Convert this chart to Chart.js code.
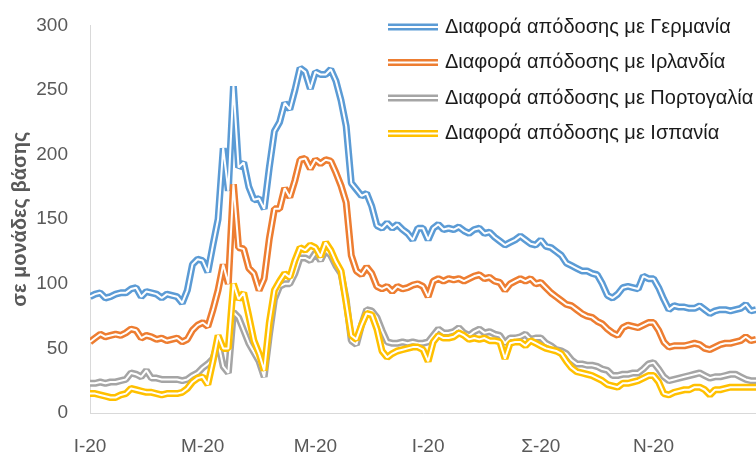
<!DOCTYPE html>
<html>
<head>
<meta charset="utf-8">
<script src="https://cdn.jsdelivr.net/npm/chart.js@4/dist/chart.umd.min.js"></script>
<style>
  html, body { margin: 0; padding: 0; background: #fff; }
  #c { display: block; }
</style>
</head>
<body>
<canvas id="c" width="756" height="453"></canvas>
<script>
// Spread of the Greek 10-year bond yield against four euro-area peers, 2020 (basis points)
const seriesNames = [
  'Διαφορά απόδοσης με Γερμανία',
  'Διαφορά απόδοσης με Ιρλανδία',
  'Διαφορά απόδοσης με Πορτογαλία',
  'Διαφορά απόδοσης με Ισπανία'
];
const seriesColors = ['#5B9BD5', '#ED7D31', '#A5A5A5', '#FFC000'];

// Month tick labels and the observation index at which each month starts
const monthTicks = ['Ι-20', 'Μ-20', 'Μ-20', 'Ι-20', 'Σ-20', 'Ν-20'];
const monthTickIndex = [0, 22, 44, 66, 88, 110];

const germany = [
  90, 92, 93, 89, 90, 92, 93, 93, 96, 97,
  90, 94, 93, 92, 89, 92, 91, 90, 85, 95,
  115, 119, 118, 109, 130, 150, 205, 172, 253, 190,
  194, 175, 165, 166, 158, 190, 218, 225, 240, 235,
  250, 267, 264, 251, 264, 262, 262, 266, 257, 242,
  222, 178, 173, 168, 170, 160, 145, 143, 147, 143,
  146, 142, 139, 134, 143, 143, 134, 143, 146, 142,
  143, 142, 144, 141, 139, 142, 143, 139, 140, 136,
  133, 130, 132, 134, 137, 134, 131, 130, 134, 129,
  128, 125, 122, 116, 114, 112, 110, 110, 108, 107,
  100, 91, 89, 92, 97, 98, 97, 96, 106, 104,
  104, 97, 88, 80, 83, 82, 82, 81, 81, 83,
  80, 77, 79, 80, 80, 79, 80, 81, 84, 79,
  80
];
const ireland = [
  55, 58, 61, 59, 60, 61, 60, 62, 65, 64,
  58, 60, 59, 57, 58, 56, 57, 58, 55, 57,
  64, 68, 70, 67, 80, 95, 115, 100, 177, 128,
  127, 112, 108, 95, 104, 135, 158, 158, 174, 167,
  180, 196, 197, 189, 196, 193, 196, 195, 186, 176,
  163, 122, 110, 107, 113, 108, 98, 96, 98, 94,
  98, 96, 97, 99, 100, 98, 90, 102, 104, 102,
  104, 103, 104, 102, 104, 106, 107, 104, 105, 102,
  101, 95, 100, 102, 104, 102, 104, 100, 101, 97,
  93, 90, 87, 84, 83, 80, 77, 75, 74, 71,
  69, 65, 62, 60, 66, 68, 67, 66, 68, 70,
  70, 64, 55, 51, 52, 52, 52, 53, 54, 53,
  50, 49, 51, 53, 54, 54, 55, 56, 59, 56,
  57
];
const portugal = [
  23, 23, 24, 23, 24, 24, 25, 26, 31, 30,
  28, 33, 27, 27, 26, 26, 26, 26, 25, 26,
  29, 31, 35, 38, 42, 55, 36, 31, 78, 74,
  64, 54, 47, 40, 28, 60, 88, 98, 100, 100,
  108, 120, 120, 118, 124, 118, 126, 122, 114, 108,
  88, 56, 53, 68, 80, 79, 74, 64, 55, 54,
  54, 55, 54, 55, 54, 54, 55, 60, 65, 62,
  62, 63, 66, 62, 60, 63, 65, 62, 63, 61,
  60, 54, 58, 58, 59, 61, 57, 58, 58, 54,
  52, 49, 48, 46, 41, 38, 38, 37, 37, 36,
  34, 33, 29, 29, 30, 30, 31, 31, 34, 38,
  39, 34, 28, 25, 26, 27, 28, 29, 30, 31,
  29, 27, 28, 28, 29, 30, 30, 28, 26, 25,
  25
];
const spain = [
  15, 15, 14, 13, 12, 12, 14, 15, 19, 18,
  17, 16, 16, 15, 14, 15, 15, 15, 16, 19,
  24, 27, 28, 22, 40, 60, 50, 50, 100, 88,
  93, 75, 56, 46, 33, 70, 95, 102, 108, 105,
  118, 128, 126, 130, 128, 121, 132, 126, 117, 110,
  85, 60, 57, 68, 77, 76, 65, 48, 43, 46,
  48, 49, 50, 51, 51, 49, 40, 55, 60, 58,
  58, 59, 62, 60, 57, 58, 57, 58, 56, 56,
  55, 42, 54, 55, 55, 52, 56, 54, 52, 50,
  49, 48, 46, 40, 35, 32, 31, 30, 29, 27,
  25, 22, 21, 20, 23, 23, 24, 25, 27, 29,
  29, 24, 15, 14, 16, 17, 18, 18, 20, 20,
  18, 14, 18, 18, 19, 20, 20, 20, 20, 20,
  20
];

const seriesValues = [germany, ireland, portugal, spain];
const observationIndex = germany.map((_, i) => i);

const FONT = '"Liberation Sans", Arial, Helvetica, sans-serif';

// Each series is drawn as a "double" line: a wide coloured stroke with a thin white core.
const datasets = [];
seriesValues.forEach((values, k) => {
  const base = 2 * (seriesValues.length - k);
  datasets.push({
    label: seriesNames[k],
    data: values,
    borderColor: seriesColors[k],
    borderWidth: 7,
    borderJoinStyle: 'bevel',
    pointRadius: 0,
    tension: 0,
    order: base
  });
  datasets.push({
    label: seriesNames[k] + ' (core)',
    data: values,
    borderColor: '#FFFFFF',
    borderWidth: 2,
    borderJoinStyle: 'bevel',
    pointRadius: 0,
    tension: 0,
    order: base - 1
  });
});

// Legend with double-line swatches, placed over the upper right of the plot
const doubleLineLegend = {
  id: 'doubleLineLegend',
  afterDraw(chart) {
    const ctx = chart.ctx;
    const x0 = 388, swatchW = 50, textX = 445, y0 = 27, rowH = 35.5;
    ctx.save();
    ctx.font = '20px ' + FONT;
    ctx.textBaseline = 'middle';
    ctx.textAlign = 'left';
    seriesNames.forEach((name, k) => {
      const y = y0 + k * rowH;
      ctx.fillStyle = seriesColors[k];
      ctx.fillRect(x0, y - 3.5, swatchW, 7);
      ctx.fillStyle = '#FFFFFF';
      ctx.fillRect(x0, y - 1, swatchW, 2);
      ctx.fillStyle = '#1a1a1a';
      ctx.fillText(name, textX, y);
    });
    ctx.restore();
  }
};

new Chart(document.getElementById('c'), {
  type: 'line',
  data: { labels: observationIndex, datasets },
  plugins: [doubleLineLegend],
  options: {
    responsive: false,
    devicePixelRatio: 1,
    animation: false,
    layout: { padding: { top: 12, right: 0, bottom: 0, left: 0 } },
    plugins: {
      legend: { display: false },
      tooltip: { enabled: false },
      title: { display: false }
    },
    scales: {
      x: {
        type: 'linear',
        min: 0,
        max: observationIndex.length - 1,
        grid: { display: false },
        border: { display: true, color: '#D9D9D9', width: 1 },
        afterBuildTicks: (scale) => {
          scale.ticks = monthTickIndex.map(v => ({ value: v }));
        },
        afterFit: (scale) => { scale.height = 40; },
        ticks: {
          autoSkip: false,
          maxRotation: 0,
          padding: 14,
          color: '#595959',
          font: { family: FONT, size: 19 },
          callback: (value) => {
            const j = monthTickIndex.indexOf(value);
            return j >= 0 ? monthTicks[j] : '';
          }
        }
      },
      y: {
        min: 0,
        max: 300,
        grid: { display: false },
        border: { display: true, color: '#D9D9D9', width: 1 },
        afterFit: (scale) => { scale.width = 90; },
        ticks: {
          stepSize: 50,
          padding: 14,
          color: '#595959',
          font: { family: FONT, size: 19 }
        },
        title: {
          display: true,
          text: 'σε μονάδες βάσης',
          color: '#595959',
          padding: { top: 8, bottom: 0 },
          font: { family: FONT, size: 20, weight: 'bold' }
        }
      }
    }
  }
});
</script>
</body>
</html>
